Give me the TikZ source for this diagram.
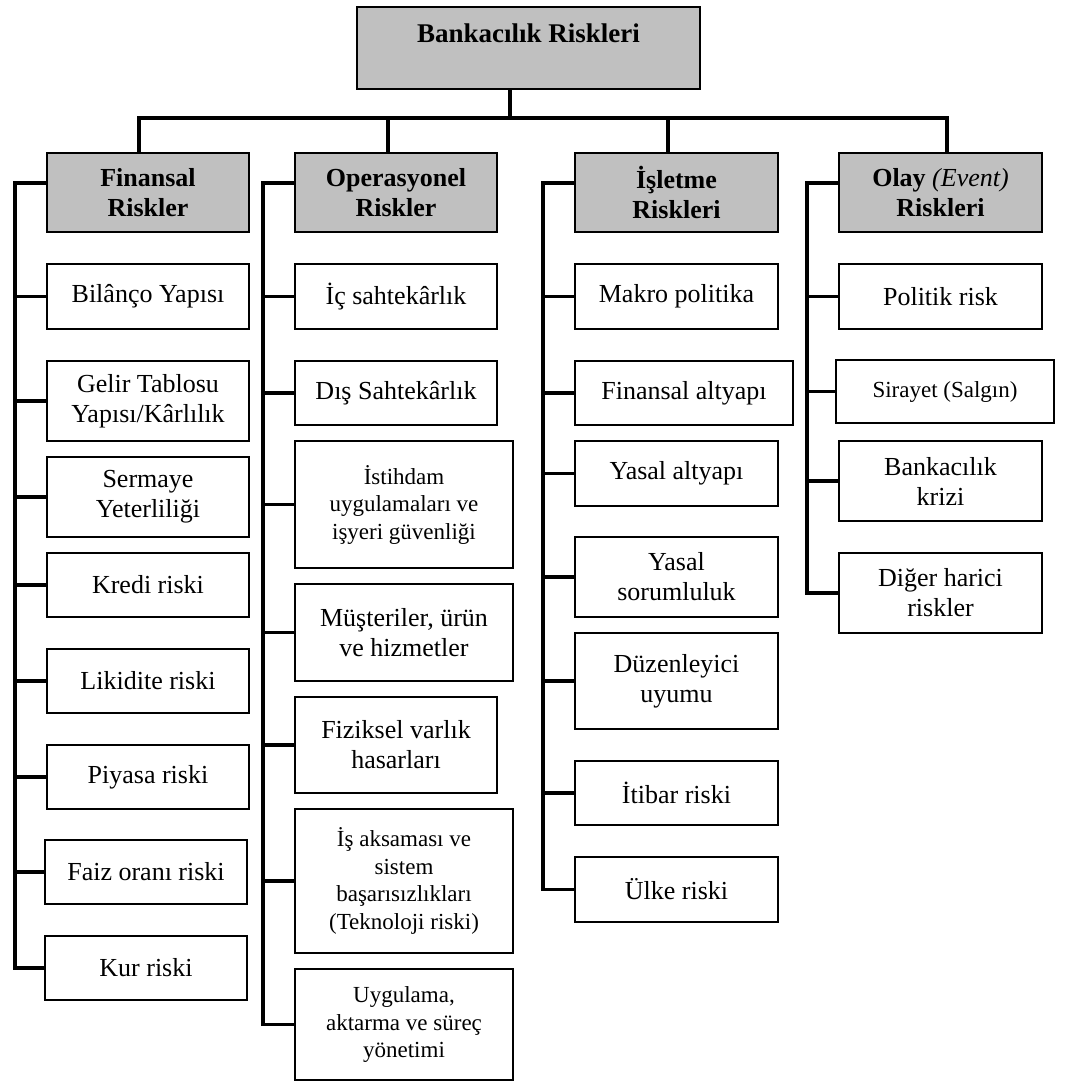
\documentclass[tikz,border=0pt]{standalone}
\usepackage{fontspec}
\setmainfont{Liberation Serif}
\usetikzlibrary{positioning,calc}
\definecolor{boxgray}{RGB}{192,192,192}
\newcommand{\nm}{\fontsize{26}{30}\selectfont}
\newcommand{\sm}{\fontsize{23}{27.5}\selectfont}

\begin{document}
\begin{tikzpicture}[x=1pt,y=-1pt,
  box/.style={draw,line width=2pt,inner sep=0pt,align=center,anchor=west},
  head/.style={box,fill=boxgray,font=\nm\bfseries,minimum width=202pt,minimum height=79pt},
  leaf/.style={box,fill=white},
  link/.style={line width=3.8pt}]
  \useasboundingbox (0,0) rectangle (1069,1081);
  % top and the four groups
  \node[box,fill=boxgray,font=\fontsize{27}{31}\selectfont\bfseries,minimum width=343pt,
        text height=36pt,text depth=46pt] (root) at (356,48) {Bankacılık Riskleri};
  \node[head] (fin) at (46,192.5) {Finansal\\Riskler};
  \node[head] (op) at (294,192.5) {Operasyonel\\Riskler};
  \node[head,minimum width=203pt] (isl) at (574,192.5) {İşletme\\Riskleri};
  \node[head,minimum width=203pt] (olay) at (838,192.5) {Olay {\mdseries\itshape (Event)}\\Riskleri};
  \coordinate (bus) at (510,118);
  \draw[link] (root.south -| bus) -- (bus);
  \draw[link] ([xshift=-9pt]fin.north) |- (bus) -| ([xshift=6.5pt]olay.north);
  \foreach \nd/\sh in {op/-8,isl/-8.5} \draw[link] ([xshift=\sh pt]\nd.north) |- (bus);
  % leaves
  \foreach \nd/\bx/\by/\bw/\bh/\fs/\txt in {
    f1/46/296.5/202/65/\nm/{Bilânço Yapısı},
    f2/46/401/202/80/\nm/{Gelir Tablosu\\Yapısı/Kârlılık},
    f3/46/497/202/80/\nm/{Sermaye\\Yeterliliği},
    f4/46/585/202/64/\nm/{Kredi riski},
    f5/46/681/202/64/\nm/{Likidite riski},
    f6/46/777/202/64/\nm/{Piyasa riski},
    f7/44/872/202/64/\nm/{Faiz oranı riski},
    f8/44/968/202/64/\nm/{Kur riski},
    o1/294/296.5/202/65/\nm/{İç sahtekârlık},
    o2/294/393/202/64/\nm/{Dış Sahtekârlık},
    o3/294/504.5/218/127/\sm/{İstihdam\\uygulamaları ve\\işyeri güvenliği},
    o4/294/632.5/218/97/\nm/{Müşteriler, ürün\\ve hizmetler},
    o5/294/745/202/96/\nm/{Fiziksel varlık\\hasarları},
    o6/294/881/218/144/\sm/{İş aksaması ve\\sistem\\başarısızlıkları\\(Teknoloji riski)},
    o7/294/1024.5/218/111/\sm/{Uygulama,\\aktarma ve süreç\\yönetimi},
    i1/574/296.5/203/65/\nm/{Makro politika},
    i2/574/393/218/64/\nm/{Finansal altyapı},
    i3/574/473.5/203/65/\nm/{Yasal altyapı},
    i4/574/577/203/80/\nm/{Yasal\\sorumluluk},
    i5/574/681/203/96/\nm/{Düzenleyici\\uyumu},
    i6/574/793/203/64/\nm/{İtibar riski},
    i7/574/889.5/203/65/\nm/{Ülke riski},
    e1/838/296.5/203/65/\nm/{Politik risk},
    e2/835/391.5/218/63/\sm/{Sirayet (Salgın)},
    e3/838/481/203/80/\nm/{Bankacılık\\krizi},
    e4/838/593/203/80/\nm/{Diğer harici\\riskler}}
    \node[leaf,font=\fs,minimum width=\bw pt,minimum height=\bh pt] (\nd) at (\bx,\by) {\txt};
  % spines
  \coordinate (fs) at (15,183);
  \coordinate (os) at (263,183);
  \coordinate (is) at (543,183);
  \coordinate (es) at (807,183);
  \draw[link] (fin.west |- fs) -- (fs) |- (f8.west);
  \draw[link] (op.west |- os) -- (os) |- (o7.west);
  \draw[link] (isl.west |- is) -- (is) |- (i7.west);
  \draw[link] (olay.west |- es) -- (es) |- (e4.west);
  \foreach \i in {1,...,7} \draw[link] (fs |- f\i.west) -- (f\i.west);
  \foreach \i in {1,...,6} \draw[link] (os |- o\i.west) -- (o\i.west);
  \foreach \i in {1,...,6} \draw[link] (is |- i\i.west) -- (i\i.west);
  \foreach \i in {1,2,3} \draw[link] (es |- e\i.west) -- (e\i.west);
\end{tikzpicture}
\end{document}
